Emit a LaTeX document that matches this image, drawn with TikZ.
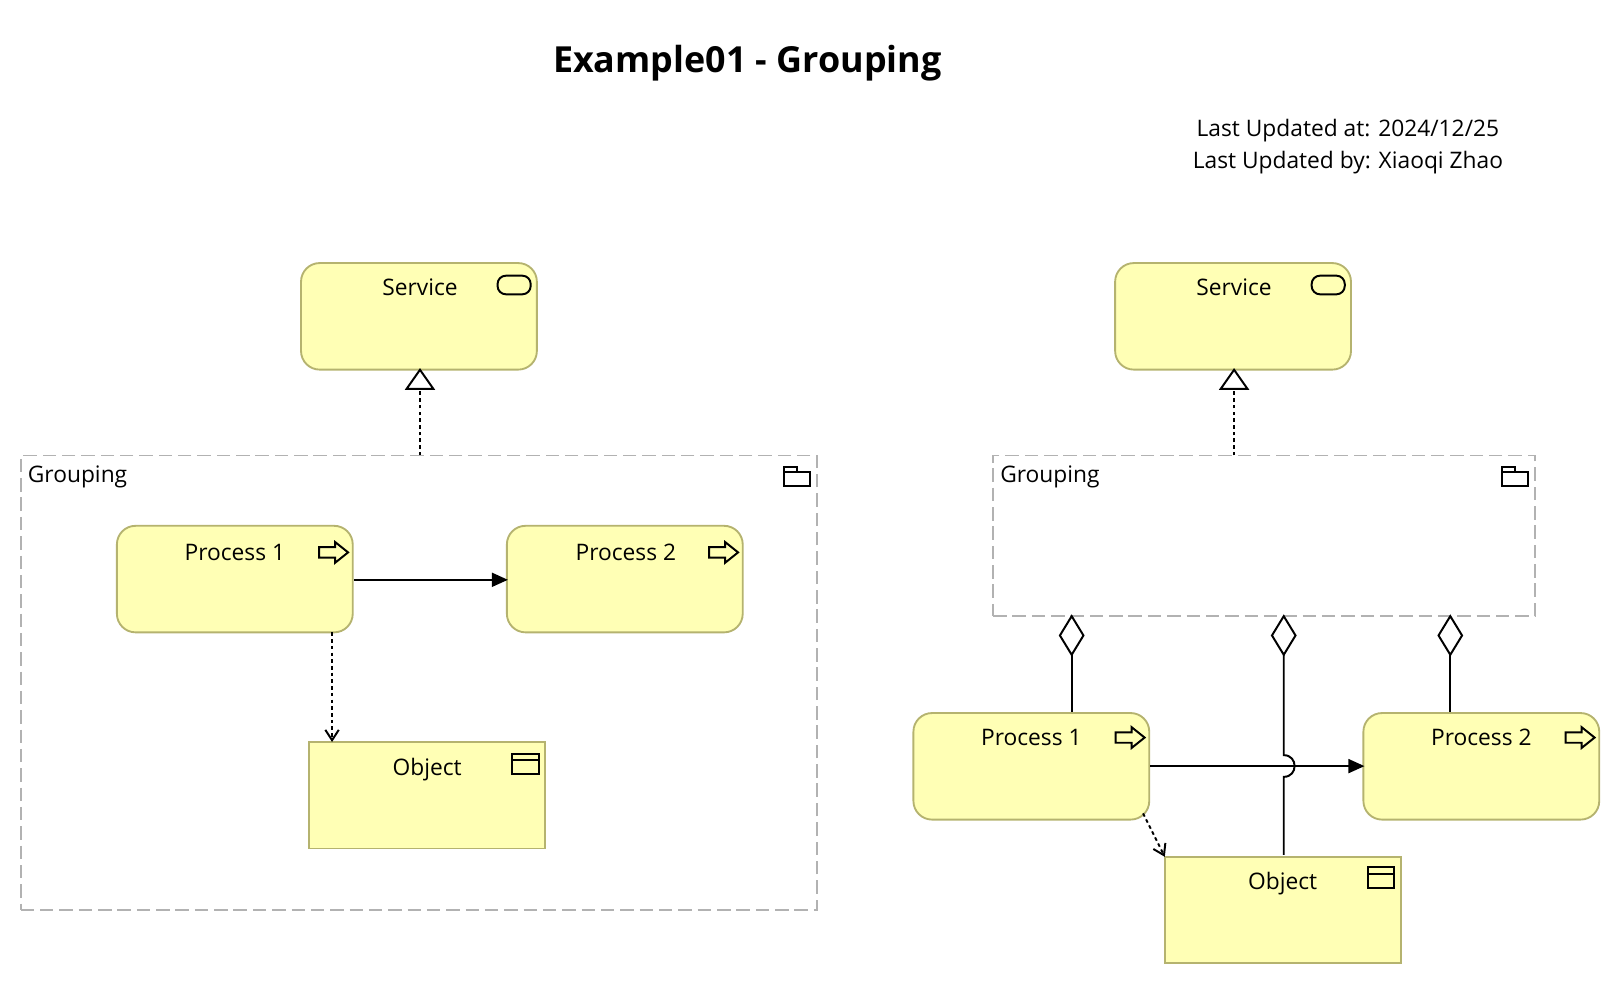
\documentclass[tikz,border=0pt]{standalone}
\usepackage{fontspec}
\setmainfont{Open Sans}
\usetikzlibrary{arrows.meta,calc}
\definecolor{elemfill}{HTML}{FFFFB5}
\definecolor{elemline}{HTML}{B5B36F}
\definecolor{grpline}{HTML}{B2B2B2}
\newcommand{\lbl}{\fontsize{22}{26}\selectfont}
\tikzset{
  x=1pt,y=-1pt,
  every node/.style={inner sep=0pt,outer sep=0pt},
  elembase/.style={draw=elemline,fill=elemfill,line width=1.8pt,minimum width=228pt,minimum height=103pt},
  roundbox/.style={elembase,rounded corners=18pt},
  objbox/.style={elembase},
  grpbox/.style={draw=grpline,line width=1.8pt,dash pattern=on 13pt off 5.7pt},
  txt/.style={anchor=base,font=\lbl},
  conn/.style={line width=1.9pt,black},
  flowline/.style={conn,-{Triangle[length=15.5pt,width=13.5pt]}},
  realline/.style={conn,dash pattern=on 3.5pt off 3pt,-{Triangle[open,fill=white,length=21pt,width=29pt,line width=1.9pt]}},
  accessline/.style={conn,dash pattern=on 3.5pt off 3pt,-{Straight Barb[length=10pt,width=13pt,line width=1.9pt]}},
  compline/.style={conn,{Diamond[open,fill=white,length=41pt,width=25pt,line width=1.9pt]}-},
  icon/.style={black,line width=1.9pt},
  pics/servicon/.style={code={\draw[icon,rounded corners=8pt] (-16,-9) rectangle (16,9);}},
  pics/procicon/.style={code={\draw[icon,line join=miter] (-14,-5) -- (1.5,-5) -- (1.5,-10) -- (14,0) -- (1.5,10) -- (1.5,5) -- (-14,5) -- cycle;}},
  pics/objicon/.style={code={\draw[icon] (-13,-10) rectangle (13,10);\draw[icon] (-13,-4) -- (13,-4);}},
  pics/foldicon/.style={code={\draw[icon] (-12.5,-4.5) rectangle (12.5,9.5);\draw[icon] (-12.5,-4.5) -- (-12.5,-9.5) -- (0,-9.5) -- (0,-4.5);}},
}
\begin{document}
\begin{tikzpicture}
\useasboundingbox (0,0) rectangle (1568,953.2);
\node[txt,font=\fontsize{34.7}{42}\selectfont\bfseries] (title) at (722.5,70) {Example01 - Grouping};
\node[txt] (upda) at (1303,131.5) {Last Updated at: 2024/12/25};
\node[txt] (updb) at (1303,162.5) {Last Updated by: Xiaoqi Zhao};

% left view
\node[grpbox,minimum width=770pt,minimum height=439pt] (lgroup) at (405,659.8) {};
\node[txt,anchor=base west] (lgrouptxt) at (27,466) {Grouping};
\pic at (770.5,460.5) {foldicon};
\node[roundbox] (lserv) at (405,305.8) {};
\node[txt] (lservtxt) at (406,286) {Service};
\pic at (497,275.5) {servicon};
\node[roundbox] (lpa) at (227,559.8) {};
\node[txt] (lpatxt) at (227,542) {Process 1};
\pic at (322.5,534) {procicon};
\node[roundbox] (lpb) at (604,559.8) {};
\node[txt] (lpbtxt) at (605,542) {Process 2};
\pic at (699.5,534) {procicon};
\node[objbox] (lobj) at (413,768.8) {};
\node[txt] (lobjtxt) at (413,750) {Object};
\pic at (508,738.5) {objicon};

\draw[realline] (lgroup.north -| lservtxt) -- ($(lserv.south -| lservtxt)+(0,-1.5)$);
\draw[flowline] ($(lpa.east)+(1,0.7)$) -- ($(lpb.west)+(1,0.7)$);
\draw[accessline] ($(lpa.south west)+(208,0)$) -- ($(lobj.north west)+(22,0)$);

% right view
\node[grpbox,minimum width=524pt,minimum height=155pt] (rgroup) at (1222,517.8) {};
\node[txt,anchor=base west] (rgrouptxt) at (967,466) {Grouping};
\pic at (1464.5,460.5) {foldicon};
\node[roundbox] (rserv) at (1192,305.8) {};
\node[txt] (rservtxt) at (1193,286) {Service};
\pic at (1284,275.5) {servicon};
\node[roundbox] (rpa) at (997,740.8) {};
\node[txt] (rpatxt) at (997,721) {Process 1};
\pic at (1092.5,713) {procicon};
\node[roundbox] (rpb) at (1432,740.8) {};
\node[txt] (rpbtxt) at (1432,721) {Process 2};
\pic at (1527.5,713) {procicon};
\node[objbox] (robj) at (1240,879.8) {};
\node[txt] (robjtxt) at (1240,860) {Object};
\pic at (1335,848.5) {objicon};

\draw[realline] (rgroup.north -| rservtxt) -- ($(rserv.south -| rservtxt)+(0,-1.5)$);
\draw[flowline] ($(rpa.east)+(1,-0.2)$) -- ($(rpb.west)+(1,-0.2)$);
\draw[accessline] ($(rpa.south east)+(-6,-6)$) -- (robj.north west);

\coordinate (dia) at (1036,688);
\coordinate (dib) at (1402,688);
\coordinate (hoplow) at (1241,751);
\coordinate (hophigh) at (1241,730);
\draw[compline] ($(rgroup.south -| dia)+(0,-1.5)$) -- (dia);
\draw[compline] ($(rgroup.south -| dib)+(0,-1.5)$) -- (dib);
\draw[compline] ($(rgroup.south -| hophigh)+(0,-1.5)$) -- (hophigh) .. controls ($(hophigh)+(14,0)$) and ($(hoplow)+(14,0)$) .. (hoplow) -- ($(robj.north)+(1,-2)$);
\end{tikzpicture}
\end{document}
